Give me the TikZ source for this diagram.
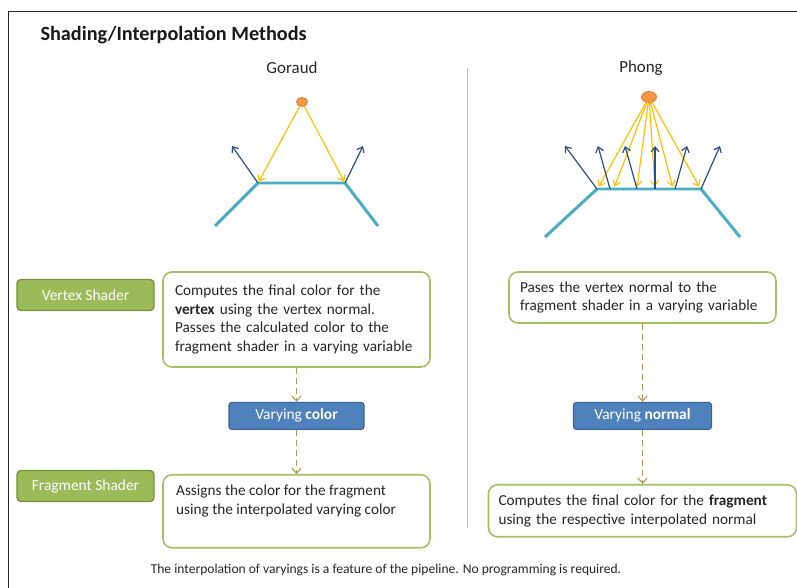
\documentclass[tikz,border=0pt]{standalone}
\usepackage{fontspec}
\setmainfont{Carlito}
\usetikzlibrary{arrows.meta,positioning,shapes.geometric}
\definecolor{shadergreen}{HTML}{9BBB59}
\definecolor{shaderedge}{HTML}{76923C}
\definecolor{noteedge}{HTML}{A2C262}
\definecolor{varyblue}{HTML}{4F81BD}
\definecolor{varyedge}{HTML}{3A6294}
\definecolor{flowolive}{HTML}{A89B5E}
\definecolor{surfcyan}{HTML}{4BACC6}
\definecolor{rayyellow}{HTML}{FFC000}
\definecolor{normalblue}{HTML}{2B4F7E}
\definecolor{lightorange}{HTML}{F79646}
\definecolor{lightedge}{HTML}{D9782F}
\definecolor{bodytext}{HTML}{262626}
\tikzset{
  shaderbox/.style={
    fill=shadergreen,
    draw=shaderedge,
    line width=1.4pt,
    rounded corners=4pt,
    minimum width=137bp,
    minimum height=31bp,
    inner sep=0pt,
    text=white,
    font=\fontsize{15.5}{18}\selectfont
  },
  notebox/.style={
    draw=noteedge,
    fill=white,
    line width=1.6pt,
    rounded corners=9pt,
    align=left,
    inner xsep=12bp,
    inner ysep=0pt,
    text=bodytext,
    font=\fontsize{15.3}{19}\selectfont
  },
  notetext/.style={
    align=left,
    inner sep=0pt,
    text=bodytext,
    font=\fontsize{15.3}{19}\selectfont
  },
  varybox/.style={
    fill=varyblue,
    draw=varyedge,
    line width=1.2pt,
    rounded corners=3pt,
    minimum height=27bp,
    inner sep=0pt,
    text=white,
    font=\fontsize{15.5}{18}\selectfont
  },
  flowarrow/.style={
    -{Straight Barb[length=5bp,width=9bp]},
    draw=flowolive,
    line width=1.1pt,
    dash pattern=on 6bp off 4bp
  },
  lightray/.style={
    -{Straight Barb[length=5bp,width=8bp]},
    draw=rayyellow,
    line width=1.2pt,
    shorten >=1.5bp
  },
  normalarrow/.style={
    -{Straight Barb[length=5bp,width=8bp]},
    draw=normalblue,
    line width=1.2pt
  },
  surface/.style={
    draw=surfcyan,
    line width=3pt,
    line join=round
  },
  lightsrc/.style={
    ellipse,
    fill=lightorange,
    draw=lightedge,
    line width=0.8pt,
    inner sep=0pt
  },
  headtext/.style={
    text=bodytext,
    font=\fontsize{17}{20}\selectfont
  }
}

\begin{document}
\begin{tikzpicture}[x=1bp, y=-1bp, node distance=34bp]
  \useasboundingbox (0,0) rectangle (797,588);
  % page frame and divider
  \draw[line width=1pt, black!85] (797,12) -- (8,12) -- (8,588);
  \draw[line width=1pt, black!25] (467,68) -- (467,528);
  \node[anchor=west, font=\fontsize{20.3}{24}\selectfont\bfseries, text=black!90] (title) at (37,35) {Shading/Interpolation Methods};
  \node[headtext] (goraud) at (292,68) {Goraud};
  \node[headtext] (phong) at (641,68) {Phong};

  % Goraud scene
  \node[lightsrc, minimum width=11bp, minimum height=9bp] (glight) at (302,102) {};
  \coordinate (gedgeL) at (215,226); \coordinate (gcornerL) at (258,183);
  \coordinate (gcornerR) at (345,183); \coordinate (gedgeR) at (378,226);
  \coordinate (gnormL) at (232,146); \coordinate (gnormR) at (363,146);
  \draw[surface] (gedgeL) -- (gcornerL) -- (gcornerR) -- (gedgeR);
  \draw[lightray] (glight) -- (gcornerL);
  \draw[lightray] (glight) -- (gcornerR);
  \draw[normalarrow] (gcornerL) -- (gnormL);
  \draw[normalarrow] (gcornerR) -- (gnormR);

  % Phong scene
  \node[lightsrc, minimum width=15bp, minimum height=11bp] (plight) at (649,97) {};
  \coordinate (pedgeL) at (545,237); \coordinate (pcornerL) at (597,189);
  \coordinate (pcornerR) at (701,189); \coordinate (pedgeR) at (740,237);
  \draw[surface] (pedgeL) -- (pcornerL) -- (pcornerR) -- (pedgeR);
  \coordinate (phit1) at (598,188); \coordinate (phit2) at (614,188);
  \coordinate (phit3) at (637,188); \coordinate (phit4) at (655,188);
  \coordinate (phit5) at (673,188); \coordinate (phit6) at (700,188);
  \draw[lightray] (plight) -- (phit1);
  \draw[lightray] (plight) -- (phit2);
  \draw[lightray] (plight) -- (phit3);
  \draw[lightray] (plight) -- (phit4);
  \draw[lightray] (plight) -- (phit5);
  \draw[lightray] (plight) -- (phit6);
  \coordinate (pfoot1) at (597,189); \coordinate (ptip1) at (565,146);
  \coordinate (pfoot2) at (610,189); \coordinate (ptip2) at (598,146);
  \coordinate (pfoot3) at (637,189); \coordinate (ptip3) at (625,146);
  \coordinate (pfoot4) at (655,189); \coordinate (ptip4) at (655,146);
  \coordinate (pfoot5) at (675,189); \coordinate (ptip5) at (687,146);
  \coordinate (pfoot6) at (701,189); \coordinate (ptip6) at (720,146);
  \draw[normalarrow] (pfoot1) -- (ptip1);
  \draw[normalarrow] (pfoot2) -- (ptip2);
  \draw[normalarrow] (pfoot3) -- (ptip3);
  \draw[normalarrow] (pfoot4) -- (ptip4);
  \draw[normalarrow] (pfoot5) -- (ptip5);
  \draw[normalarrow] (pfoot6) -- (ptip6);

  % shader labels
  \node[shaderbox] (vtxshader) at (85.5,295) {Vertex Shader};
  \node[shaderbox] (fragshader) at (85.5,486) {Fragment Shader};

  % Goraud pipeline
  \node[notebox, text width=243bp, minimum height=95bp] (gvtxnote) at (296.5,319.5)
    {Computes the final color for the\\\textbf{vertex} using the vertex normal.\\Passes the calculated color to the\\fragment shader in a varying variable};
  \node[varybox, minimum width=135bp, below=of gvtxnote] (gvarying) {Varying \textbf{color}};
  \node[notebox, minimum width=267bp, minimum height=73bp, below=44bp of gvarying] (gfragnote) {};
  \node[notetext, anchor=north west] (gfragtext) at (176,485)
    {Assigns the color for the fragment\\using the interpolated varying color};
  \draw[flowarrow] (gvtxnote) -- (gvarying);
  \draw[flowarrow] (gvarying) -- (gfragnote);

  % Phong pipeline
  \node[notebox, inner xsep=11bp, text width=245bp, minimum height=51bp] (pvtxnote) at (642.5,297.5)
    {Pases the vertex normal to the\\fragment shader in a varying variable};
  \node[varybox, minimum width=138bp, below=78bp of pvtxnote] (pvarying) {Varying \textbf{normal}};
  \node[notebox, inner xsep=10bp, text width=288bp, minimum height=52bp, below=54bp of pvarying] (pfragnote)
    {Computes the final color for the \textbf{fragment}\\using the respective interpolated normal};
  \draw[flowarrow] (pvtxnote) -- (pvarying);
  \draw[flowarrow] (pvarying) -- (pfragnote);

  \node[text=bodytext, font=\fontsize{13.6}{16}\selectfont] (footnote) at (386,570)
    {The interpolation of varyings is a feature of the pipeline. No programming is required.};
\end{tikzpicture}
\end{document}
